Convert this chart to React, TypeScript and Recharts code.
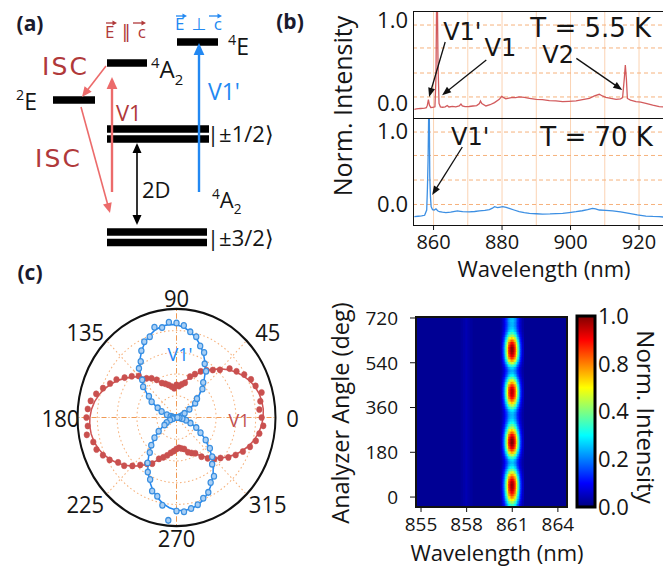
import React from 'react';
import {
  ComposedChart, LineChart, Line, XAxis, YAxis, ReferenceLine, ReferenceDot,
  RadarChart, Radar, PolarGrid, PolarAngleAxis, PolarRadiusAxis,
  ScatterChart, Scatter, BarChart, Bar,
} from 'recharts';

const FONT = '"Open Sans", "DejaVu Sans", sans-serif';
const NOTE_FONT = '"DejaVu Sans", sans-serif';
const INK = '#151515';
const RED_TXT = '#b0393a';
const RED_ARROW = '#ec6b6b';
const BLUE = '#2288f2';
const SPEC_RED = '#d25a5c';
const SPEC_BLUE = '#3c8fe3';
const GRID_V = '#fbd3b3';
const GRID_H = '#f6b27d';

// ---------- (a) level diagram (panel pixel units) ----------
const levelX0 = [177, 107, 53, 107, 107, 107, 107];
const levelX1 = [218, 147, 95, 209, 209, 207, 207];
const levelY = [42, 63, 100, 129, 139, 232, 242.5];

const arrowFrom = [[112, 192], [106, 66], [81, 107], [199, 192], [137, 143]];
const arrowTo = [[112, 77], [82, 97], [110, 213], [199, 43], [137, 225]];
const arrowColor = [RED_ARROW, RED_ARROW, RED_ARROW, BLUE, '#000'];
const arrowWidth = [2.4, 1.6, 1.6, 2.4, 1.6];
const arrowBoth = [false, false, false, false, true];
const arrowHead = [12, 10, 10, 12, 10];

const vecFrom = [[106, 23], [133, 23], [176, 16], [209, 16]];
const vecTo = [[117, 23], [146, 23], [187, 16], [222, 16]];
const vecColor = [RED_TXT, RED_TXT, BLUE, BLUE];

type Part = { t: string; k?: 'sup' | 'sub' };
const diagramLabels: { x: number; y: number; size: number; color: string; parts: Part[]; len?: number; font?: string }[] = [
  { x: 105, y: 38, size: 17, color: RED_TXT, parts: [{ t: 'E‖c' }], len: 41 },
  { x: 175, y: 30, size: 17, color: BLUE, parts: [{ t: 'E⊥c' }], len: 47 },
  { x: 42, y: 75, size: 25, color: RED_TXT, parts: [{ t: 'ISC' }], len: 45, font: NOTE_FONT },
  { x: 35, y: 167, size: 25, color: RED_TXT, parts: [{ t: 'ISC' }], len: 45, font: NOTE_FONT },
  { x: 116, y: 121, size: 22, color: RED_TXT, parts: [{ t: 'V1' }] },
  { x: 208, y: 100, size: 23, color: BLUE, parts: [{ t: "V1'" }] },
  { x: 142, y: 198, size: 22, color: INK, parts: [{ t: '2D' }] },
  { x: 16, y: 110, size: 23, color: INK, parts: [{ t: '2', k: 'sup' }, { t: 'E' }] },
  { x: 151, y: 78, size: 24, color: INK, parts: [{ t: '4', k: 'sup' }, { t: 'A' }, { t: '2', k: 'sub' }] },
  { x: 228, y: 55, size: 23, color: INK, parts: [{ t: '4', k: 'sup' }, { t: 'E' }] },
  { x: 212, y: 208, size: 22, color: INK, parts: [{ t: '4', k: 'sup' }, { t: 'A' }, { t: '2', k: 'sub' }] },
  { x: 207, y: 142, size: 22, color: INK, parts: [{ t: '|±1/2⟩' }] },
  { x: 207, y: 246, size: 22, color: INK, parts: [{ t: '|±3/2⟩' }] },
];

// ---------- (b) spectra ----------
const lowTWavelength = [
  854.4, 855.0, 855.6, 856.2, 856.8, 857.4, 857.9, 858.2, 858.5, 858.8, 859.2, 859.8,
  860.4, 860.7, 860.9, 861.1, 861.3, 861.6, 862.0, 862.6, 863.4, 864.0, 864.5, 865.5,
  866.5, 867.5, 868.0, 868.4, 869.2, 870.4, 871.5, 872.6, 873.4, 873.7, 874.1, 875.3,
  876.5, 877.8, 879.2, 879.9, 880.5, 881.1, 882.0, 883.1, 884.0, 885.0, 886.5, 888.0,
  890.0, 891.8, 893.8, 895.7, 897.7, 899.5, 901.6, 903.5, 905.5, 907.0, 908.4, 909.3,
  910.3, 911.8, 913.3, 914.6, 915.2, 915.7, 916.0, 916.3, 916.6, 917.5, 919.1, 920.5,
  922.0, 924.0, 925.9, 927.0,
];
const lowTIntensity = [
  -0.07, -0.065, -0.062, -0.06, -0.058, -0.056, -0.05, -0.02, 0.045, -0.02, -0.048, -0.046,
  -0.04, 0.3, 1.25, 1.3, 0.5, 0.0, -0.04, -0.045, -0.04, -0.025, -0.042, -0.035,
  -0.04, -0.03, -0.006, -0.03, -0.038, -0.036, -0.03, -0.025, 0.0, 0.03, 0.0, -0.03,
  -0.015, 0.01, 0.05, 0.085, 0.07, 0.055, 0.065, 0.074, 0.07, 0.08, 0.072, 0.062,
  0.05, 0.045, 0.035, 0.03, 0.022, 0.025, 0.03, 0.045, 0.062, 0.09, 0.11, 0.09,
  0.074, 0.06, 0.05, 0.056, 0.07, 0.3, 0.46, 0.3, 0.06, 0.04, 0.022, 0.015,
  0.002, -0.02, -0.038, -0.04,
];
const highTWavelength = [
  854.4, 855.5, 856.5, 857.4, 858.0, 858.2, 858.4, 858.6, 858.75, 858.9, 859.1, 859.3,
  859.7, 860.2, 860.7, 861.2, 861.7, 862.6, 863.6, 865.0, 866.2, 867.0, 867.8, 868.5,
  870.4, 872.0, 873.4, 875.0, 876.3, 877.2, 877.8, 878.7, 879.5, 880.2, 881.2, 882.1,
  883.5, 885.0, 886.5, 888.0, 890.0, 891.8, 894.0, 895.8, 897.7, 899.6, 901.6, 903.4,
  905.0, 906.4, 907.3, 908.4, 910.3, 912.3, 914.6, 917.1, 919.5, 922.0, 924.0, 925.9,
  927.0,
];
const highTIntensity = [
  -0.166, -0.16, -0.155, -0.147, -0.075, 0.2, 0.6, 1.3, 1.3, 0.38, 0.1, -0.03,
  -0.07, -0.075, -0.06, -0.085, -0.098, -0.105, -0.11, -0.105, -0.095, -0.088, -0.093, -0.098,
  -0.1, -0.095, -0.088, -0.08, -0.07, -0.05, -0.03, -0.043, -0.035, -0.03, -0.04, -0.052,
  -0.075, -0.098, -0.11, -0.12, -0.126, -0.13, -0.128, -0.124, -0.12, -0.11, -0.098, -0.085,
  -0.07, -0.052, -0.06, -0.075, -0.08, -0.088, -0.1, -0.12, -0.14, -0.157, -0.163, -0.166,
  -0.17,
];
const specDomain = [854, 927];
const specTicks = [860, 880, 900, 920];
const specGridWl = [860, 870, 880, 890, 900, 910, 920];
const lowTGridI = [0.078, 0.365, 0.665, 0.94];
const highTGridI = [0, 0.333, 0.667, 0.986];

const lowTNotes = [
  { wl: 868.4, i: 0.856, text: "V1'", size: 24 },
  { wl: 879.5, i: 0.665, text: 'V1', size: 24 },
  { wl: 896.4, i: 0.58, text: 'V2', size: 24 },
  { wl: 905.9, i: 0.9, text: 'T = 5.5 K', size: 26 },
];
const lowTPointers = [
  [[863.4, 0.736], [858.7, 0.078]],
  [[875.4, 0.521], [862.5, 0.1]],
  [[901.7, 0.54], [915.1, 0.162]],
];
const highTNotes = [
  { wl: 870.7, i: 0.918, text: "V1'", size: 24 },
  { wl: 907.6, i: 0.918, text: 'T = 70 K', size: 26 },
];
const highTPointers = [[[868.4, 0.782], [859.6, 0.129]]];

// ---------- (c) polar ----------
const polarAngles = [
  0, 5, 10, 15, 20, 25, 30, 35, 40, 45, 50, 55, 60, 65, 70, 75, 80, 85,
  90, 95, 100, 105, 110, 115, 120, 125, 130, 135, 140, 145, 150, 155, 160, 165, 170, 175,
  180, 185, 190, 195, 200, 205, 210, 215, 220, 225, 230, 235, 240, 245, 250, 255, 260, 265,
  270, 275, 280, 285, 290, 295, 300, 305, 310, 315, 320, 325, 330, 335, 340, 345, 350, 355,
];
const v1Points = [
  0.84, 0.86, 0.89, 0.85, 0.83, 0.79, 0.74, 0.70, 0.62, 0.57, 0.53, 0.49,
  0.44, 0.40, 0.33, 0.31, 0.29, 0.30, 0.27, 0.29, 0.31, 0.33, 0.35, 0.40,
  0.44, 0.47, 0.54, 0.59, 0.64, 0.70, 0.74, 0.79, 0.84, 0.88, 0.90, 0.91,
  0.90, 0.92, 0.87, 0.86, 0.82, 0.78, 0.72, 0.69, 0.63, 0.57, 0.52, 0.49,
  0.42, 0.39, 0.36, 0.33, 0.31, 0.29, 0.28, 0.29, 0.30, 0.34, 0.36, 0.38,
  0.44, 0.49, 0.54, 0.58, 0.64, 0.69, 0.74, 0.79, 0.83, 0.85, 0.88, 0.86,
];
const v1Fit = [
  0.88, 0.875, 0.862, 0.84, 0.81, 0.773, 0.73, 0.683, 0.632, 0.58, 0.528, 0.477,
  0.43, 0.387, 0.35, 0.32, 0.298, 0.285, 0.28, 0.285, 0.298, 0.32, 0.35, 0.387,
  0.43, 0.477, 0.528, 0.58, 0.632, 0.683, 0.73, 0.773, 0.81, 0.84, 0.862, 0.875,
  0.88, 0.875, 0.862, 0.84, 0.81, 0.773, 0.73, 0.683, 0.632, 0.58, 0.528, 0.477,
  0.43, 0.387, 0.35, 0.32, 0.298, 0.285, 0.28, 0.285, 0.298, 0.32, 0.35, 0.387,
  0.43, 0.477, 0.528, 0.58, 0.632, 0.683, 0.73, 0.773, 0.81, 0.84, 0.862, 0.875,
];
const v1pPoints = [
  0.02, 0.03, 0.05, 0.07, 0.09, 0.15, 0.23, 0.27, 0.37, 0.42, 0.52, 0.57,
  0.66, 0.70, 0.77, 0.80, 0.85, 0.87, 0.88, 0.84, 0.86, 0.79, 0.77, 0.71,
  0.63, 0.59, 0.49, 0.44, 0.34, 0.29, 0.21, 0.16, 0.10, 0.06, 0.04, 0.02,
  0.01, 0.03, 0.04, 0.07, 0.11, 0.14, 0.22, 0.29, 0.36, 0.42, 0.51, 0.58,
  0.63, 0.72, 0.75, 0.82, 0.95, 0.86, 0.87, 0.85, 0.83, 0.79, 0.76, 0.69,
  0.66, 0.56, 0.51, 0.44, 0.36, 0.28, 0.22, 0.15, 0.10, 0.06, 0.03, 0.01,
];
const v1pFit = [
  0, 0.007, 0.026, 0.058, 0.101, 0.154, 0.215, 0.283, 0.355, 0.43, 0.505, 0.577,
  0.645, 0.706, 0.759, 0.802, 0.834, 0.853, 0.86, 0.853, 0.834, 0.802, 0.759, 0.706,
  0.645, 0.577, 0.505, 0.43, 0.355, 0.283, 0.215, 0.154, 0.101, 0.058, 0.026, 0.007,
  0, 0.007, 0.026, 0.058, 0.101, 0.154, 0.215, 0.283, 0.355, 0.43, 0.505, 0.577,
  0.645, 0.706, 0.759, 0.802, 0.834, 0.853, 0.86, 0.853, 0.834, 0.802, 0.759, 0.706,
  0.645, 0.577, 0.505, 0.43, 0.355, 0.283, 0.215, 0.154, 0.101, 0.058, 0.026, 0.007,
];
const polarTickAngles = [0, 45, 90, 135, 180, 225, 270, 315];

// ---------- (c) heat map ----------
const heatWl = [854.67, 864.6];
const heatAngle = [-40, 724];
const heatWlTicks = [855, 858, 861, 864];
const heatAngleTicks = [0, 180, 360, 540, 720];
const heatBackground = 0.02;
const v1Center = 861.0;
const v1Offsets = [-0.7, -0.6, -0.5, -0.4, -0.3, -0.2, -0.1, 0, 0.1, 0.2, 0.3, 0.4, 0.5, 0.6, 0.7];
const v1Profile = [0.06, 0.14, 0.28, 0.45, 0.65, 0.85, 0.95, 1.0, 0.95, 0.85, 0.65, 0.45, 0.28, 0.14, 0.06];
const v1pCenter = 858.0;
const v1pOffsets = [-0.3, -0.15, 0, 0.15, 0.3];
const v1pLevel = [0.01, 0.02, 0.03, 0.02, 0.01];
const analyzerAngles = [
  -40, -30, -20, -10, 0, 10, 20, 30, 40, 50, 60, 70,
  80, 90, 100, 110, 120, 130, 140, 150, 160, 170, 180, 190,
  200, 210, 220, 230, 240, 250, 260, 270, 280, 290, 300, 310,
  320, 330, 340, 350, 360, 370, 380, 390, 400, 410, 420, 430,
  440, 450, 460, 470, 480, 490, 500, 510, 520, 530, 540, 550,
  560, 570, 580, 590, 600, 610, 620, 630, 640, 650, 660, 670,
  680, 690, 700, 710, 720,
];
const v1AngleGain = [
  0.35, 0.42, 0.52, 0.62, 0.72, 0.80, 0.87, 0.92, 0.95, 0.96, 0.94, 0.88,
  0.80, 0.70, 0.58, 0.47, 0.38, 0.32, 0.30, 0.33, 0.42, 0.55, 0.68, 0.80,
  0.90, 0.96, 0.99, 0.98, 0.94, 0.86, 0.76, 0.65, 0.54, 0.45, 0.38, 0.33,
  0.30, 0.29, 0.30, 0.35, 0.44, 0.55, 0.66, 0.76, 0.85, 0.91, 0.93, 0.93,
  0.89, 0.81, 0.70, 0.58, 0.46, 0.36, 0.30, 0.28, 0.32, 0.42, 0.56, 0.70,
  0.82, 0.90, 0.95, 0.97, 0.97, 0.93, 0.86, 0.76, 0.64, 0.52, 0.42, 0.35,
  0.31, 0.29, 0.29, 0.30, 0.30,
];
const peakLabelWl = [858, 861];
const peakLabelText = ["V1'", 'V1'];
const peakLabelColor = [BLUE, '#c85a5a'];

const colorbarValue = [1];
const colorbarTicks = [0, 0.25, 0.5, 0.75, 1];
const colorbarLabels = ['0.0', '0.2', '0.4', '0.8', '1.0'];
const jetStops = [0, 0.125, 0.375, 0.625, 0.875, 1];
const jetColors = ['#00007f', '#0000ff', '#00ffff', '#ffff00', '#ff0000', '#7f0000'];

// heat map plot box in pixels
const HM_W = 151;
const HM_H = 190;

const clamp = (v: number) => Math.max(0, Math.min(1, v));
function jet(v: number) {
  const r = clamp(1.5 - Math.abs(4 * v - 3));
  const g = clamp(1.5 - Math.abs(4 * v - 2));
  const b = clamp(1.5 - Math.abs(4 * v - 1));
  return `rgb(${Math.round(r * 255)},${Math.round(g * 255)},${Math.round(b * 255)})`;
}

const heatCells = [
  {
    x: (heatWl[0] + heatWl[1]) / 2, y: (heatAngle[0] + heatAngle[1]) / 2,
    w: heatWl[1] - heatWl[0], h: heatAngle[1] - heatAngle[0], v: heatBackground,
  },
  ...v1pOffsets.map((o, j) => ({
    x: v1pCenter + o, y: (heatAngle[0] + heatAngle[1]) / 2,
    w: 0.15, h: heatAngle[1] - heatAngle[0], v: heatBackground + v1pLevel[j],
  })),
  ...analyzerAngles.flatMap((a, i) =>
    v1Offsets.map((o, j) => ({
      x: v1Center + o, y: a, w: 0.1, h: 10, v: heatBackground + v1Profile[j] * v1AngleGain[i],
    })),
  ),
];

const CellShape = (p: any) => {
  const d = p.payload;
  const w = (d.w * HM_W) / (heatWl[1] - heatWl[0]) + 0.6;
  const h = (d.h * HM_H) / (heatAngle[1] - heatAngle[0]) + 0.6;
  return <rect x={p.cx - w / 2} y={p.cy - h / 2} width={w} height={h} fill={jet(d.v)} />;
};

// ---------- helpers ----------
function arrowShape(color: string, width: number, both: boolean, head: number, half: number) {
  return (p: any) => {
    const { x1, y1, x2, y2 } = p;
    const len = Math.hypot(x2 - x1, y2 - y1) || 1;
    const ux = (x2 - x1) / len;
    const uy = (y2 - y1) / len;
    const tri = (tx: number, ty: number, sx: number, sy: number) => {
      const bx = tx - sx * head;
      const by = ty - sy * head;
      return `${tx},${ty} ${bx - sy * half},${by + sx * half} ${bx + sy * half},${by - sx * half}`;
    };
    const sx = both ? x1 + ux * head * 0.8 : x1;
    const sy = both ? y1 + uy * head * 0.8 : y1;
    return (
      <g>
        <line x1={sx} y1={sy} x2={x2 - ux * head * 0.8} y2={y2 - uy * head * 0.8} stroke={color} strokeWidth={width} />
        <polygon points={tri(x2, y2, ux, uy)} fill={color} />
        {both && <polygon points={tri(x1, y1, -ux, -uy)} fill={color} />}
      </g>
    );
  };
}

function Rich({ x, y, size, color, parts, len, font = FONT }: any) {
  const shift = (k?: string) => (k === 'sup' ? -0.42 * size : k === 'sub' ? 0.28 * size : 0);
  let prev = 0;
  return (
    <text x={x} y={y} fontSize={size} fill={color} fontFamily={font}
      textLength={len} lengthAdjust={len ? 'spacing' : undefined}>
      {parts.map((pt: Part, i: number) => {
        const s = shift(pt.k);
        const dy = s - prev;
        prev = s;
        return <tspan key={i} dy={dy} fontSize={pt.k ? size * 0.62 : size}>{pt.t}</tspan>;
      })}
    </text>
  );
}

function Tag({ x, y, size, children, rot = 0, color = INK, bold = false }: any) {
  return (
    <div style={{
      position: 'absolute', left: x, top: y, transform: `translate(-50%,-50%) rotate(${rot}deg)`,
      fontSize: size, lineHeight: 1, whiteSpace: 'nowrap', color, fontWeight: bold ? 700 : 400,
    }}>{children}</div>
  );
}

function Frame({ x, y, w, h, bw }: any) {
  return <div style={{ position: 'absolute', left: x, top: y, width: w, height: h, border: `${bw}px solid #111`, boxSizing: 'border-box', pointerEvents: 'none' }} />;
}

const POLAR_CX = 160.5;
const POLAR_CY = 150.5;
const AngleTick = (p: any) => {
  const a = Number(p.payload.value);
  if (!polarTickAngles.includes(a)) return <g />;
  const card = a % 90 === 0;
  const rx = card ? 116 : 129;
  const ry = card ? 109 : 111;
  const rad = (a * Math.PI) / 180;
  return (
    <text x={POLAR_CX + Math.cos(rad) * rx} y={POLAR_CY - Math.sin(rad) * ry} textAnchor="middle"
      dominantBaseline="central" fontSize={22} fill={INK} fontFamily={FONT}>{a}</text>
  );
};

const PeakTick = (p: any) => {
  const i = peakLabelWl.indexOf(Number(p.payload.value));
  return (
    <text x={p.x} y={p.y} textAnchor="middle" fontSize={18} fill={peakLabelColor[i]} fontFamily={FONT}>
      {peakLabelText[i]}
    </text>
  );
};

const noteShape = (text: string, size: number) => (p: any) => (
  <text x={p.cx} y={p.cy} textAnchor="middle" dominantBaseline="central" fontSize={size} fill={INK}
    fontFamily={NOTE_FONT}>{text}</text>
);

const dotShape = (fill: string, stroke: string, r: number, sw: number) => (p: any) =>
  <circle key={p.key ?? `${p.cx}-${p.cy}`} cx={p.cx} cy={p.cy} r={r} fill={fill} stroke={stroke} strokeWidth={sw} />;

const tickStyle = { fontSize: 20, fill: INK, fontFamily: FONT };

export default function App() {
  const lowTData = lowTWavelength.map((w, i) => ({ wl: w, i: lowTIntensity[i] }));
  const highTData = highTWavelength.map((w, i) => ({ wl: w, i: highTIntensity[i] }));
  const polarData = polarAngles.map((a, i) => ({
    angle: a, v1: v1Points[i], v1fit: v1Fit[i], v1p: v1pPoints[i], v1pfit: v1pFit[i],
  }));
  const colorbarData = colorbarValue.map((v) => ({ k: 'cb', v }));

  return (
    <div style={{ position: 'absolute', left: 0, top: 0, width: 663, height: 571, background: '#fff', fontFamily: FONT, color: INK, overflow: 'hidden' }}>
      {/* (a) */}
      <div style={{ position: 'absolute', left: 0, top: 0 }}>
        <ComposedChart width={330} height={262} margin={{ top: 0, right: 0, bottom: 12, left: 0 }}>
          <XAxis type="number" dataKey="x" domain={[0, 330]} allowDataOverflow hide />
          <YAxis type="number" domain={[0, 250]} reversed allowDataOverflow hide />
          {levelY.map((y, i) => (
            <ReferenceLine key={'lv' + i} segment={[{ x: levelX0[i], y }, { x: levelX1[i], y }]} stroke="#000" strokeWidth={7.5} />
          ))}
          {arrowFrom.map((f, i) => (
            <ReferenceLine key={'ar' + i} segment={[{ x: f[0], y: f[1] }, { x: arrowTo[i][0], y: arrowTo[i][1] }]}
              shape={arrowShape(arrowColor[i], arrowWidth[i], arrowBoth[i], arrowHead[i], arrowHead[i] * 0.45)} />
          ))}
          {vecFrom.map((f, i) => (
            <ReferenceLine key={'vec' + i} segment={[{ x: f[0], y: f[1] }, { x: vecTo[i][0], y: vecTo[i][1] }]}
              shape={arrowShape(vecColor[i], 1.3, false, 4.5, 2.5)} />
          ))}
          {diagramLabels.map((l, i) => (
            <ReferenceDot key={'lb' + i} x={l.x} y={l.y} r={0}
              shape={(p: any) => <Rich x={p.cx} y={p.cy} size={l.size} color={l.color} parts={l.parts} len={l.len} font={l.font} />} />
          ))}
        </ComposedChart>
      </div>

      {/* (b) top: 5.5 K */}
      <div style={{ position: 'absolute', left: 330, top: 0 }}>
        <LineChart width={333} height={130} data={lowTData} margin={{ top: 12, right: 0, bottom: 12, left: 0 }}>
          <XAxis type="number" dataKey="wl" domain={specDomain} allowDataOverflow hide />
          <YAxis type="number" domain={[-0.174, 1.096]} allowDataOverflow ticks={[0, 1]} width={83}
            tickFormatter={(v: number) => v.toFixed(1)} tick={{ ...tickStyle, fontSize: 22 }}
            tickLine={false} axisLine={false} tickSize={0} tickMargin={5} />
          {specGridWl.map((w) => <ReferenceLine key={'gv' + w} x={w} stroke={GRID_V} strokeWidth={1} />)}
          {lowTGridI.map((v) => <ReferenceLine key={'gh' + v} y={v} stroke={GRID_H} strokeDasharray="4 3" />)}
          <Line type="linear" dataKey="i" stroke={SPEC_RED} strokeWidth={1.3} dot={false} isAnimationActive={false} />
          {lowTPointers.map((s, i) => (
            <ReferenceLine key={'pt' + i} segment={[{ x: s[0][0], y: s[0][1] }, { x: s[1][0], y: s[1][1] }]}
              shape={arrowShape('#111', 1.3, false, 9, 3.5)} />
          ))}
          {lowTNotes.map((n, i) => (
            <ReferenceDot key={'nt' + i} x={n.wl} y={n.i} r={0} shape={noteShape(n.text, n.size)} />
          ))}
        </LineChart>
      </div>

      {/* (b) bottom: 70 K */}
      <div style={{ position: 'absolute', left: 330, top: 108 }}>
        <LineChart width={333} height={170} data={highTData} margin={{ top: 10, right: 0, bottom: 0, left: 0 }}>
          <XAxis type="number" dataKey="wl" domain={specDomain} allowDataOverflow ticks={specTicks} height={53}
            tick={tickStyle} tickLine={{ stroke: '#111' }} axisLine={false} tickSize={5} tickMargin={5} />
          <YAxis type="number" domain={[-0.279, 1.177]} allowDataOverflow ticks={[0, 1]} width={83}
            tickFormatter={(v: number) => v.toFixed(1)} tick={{ ...tickStyle, fontSize: 22 }}
            tickLine={false} axisLine={false} tickSize={0} tickMargin={5} />
          {specGridWl.map((w) => <ReferenceLine key={'gv' + w} x={w} stroke={GRID_V} strokeWidth={1} />)}
          {highTGridI.map((v) => <ReferenceLine key={'gh' + v} y={v} stroke={GRID_H} strokeDasharray="4 3" />)}
          <Line type="linear" dataKey="i" stroke={SPEC_BLUE} strokeWidth={1.3} dot={false} isAnimationActive={false} />
          {highTPointers.map((s, i) => (
            <ReferenceLine key={'pt' + i} segment={[{ x: s[0][0], y: s[0][1] }, { x: s[1][0], y: s[1][1] }]}
              shape={arrowShape('#111', 1.3, false, 9, 3.5)} />
          ))}
          {highTNotes.map((n, i) => (
            <ReferenceDot key={'nt' + i} x={n.wl} y={n.i} r={0} shape={noteShape(n.text, n.size)} />
          ))}
        </LineChart>
      </div>
      <Frame x={412.5} y={11} w={260} h={108} bw={1.5} />
      <Frame x={412.5} y={117.5} w={260} h={108.5} bw={1.5} />

      {/* (c) polar */}
      <div style={{ position: 'absolute', left: 16, top: 267, transform: 'scaleY(1.098)', transformOrigin: `${POLAR_CX}px ${POLAR_CY}px` }}>
        <RadarChart width={320} height={300} cx={POLAR_CX} cy={POLAR_CY} outerRadius={99} data={polarData}
          startAngle={0} endAngle={360} margin={{ top: 0, right: 0, bottom: 0, left: 0 }}>
          <PolarGrid gridType="circle" polarAngles={[45, 135, 225, 315]} polarRadius={[19.8, 39.6, 59.4, 79.2]}
            stroke={GRID_H} strokeDasharray="1.5 2.5" />
          <PolarGrid gridType="circle" polarAngles={[0, 90, 180, 270]} polarRadius={[0]}
            stroke="#ef9a55" strokeDasharray="5 2 1 2" />
          <PolarAngleAxis dataKey="angle" tick={AngleTick} tickLine={false} axisLineType="circle"
            axisLine={{ stroke: '#111', strokeWidth: 2 }} />
          <PolarRadiusAxis domain={[0, 1]} tick={false} axisLine={false} />
          <Radar dataKey="v1fit" stroke="#cf5354" strokeWidth={1.5} fill="none" fillOpacity={0} dot={false} isAnimationActive={false} />
          <Radar dataKey="v1" stroke="none" fill="none" fillOpacity={0}
            dot={dotShape('#c9504f', '#c9504f', 2.8, 0.5)} isAnimationActive={false} />
          <Radar dataKey="v1pfit" stroke={BLUE} strokeWidth={1.5} fill="none" fillOpacity={0} dot={false} isAnimationActive={false} />
          <Radar dataKey="v1p" stroke="none" fill="none" fillOpacity={0}
            dot={dotShape('#a9cff5', '#3a8fe0', 2.6, 1.2)} isAnimationActive={false} />
        </RadarChart>
      </div>
      <Tag x={180} y={354} size={18} color={BLUE}>V1'</Tag>
      <Tag x={239} y={420} size={18} color="#c05050">V1</Tag>

      {/* (c) heat map */}
      <div style={{ position: 'absolute', left: 330, top: 280 }}>
        <ScatterChart width={250} height={262} margin={{ top: 7, right: 13, bottom: 2, left: 26 }}>
          <XAxis type="number" dataKey="x" domain={heatWl} allowDataOverflow ticks={heatWlTicks} height={33}
            tick={{ ...tickStyle, fontSize: 19 }} tickLine={{ stroke: '#111' }} axisLine={false} tickSize={5} tickMargin={6} />
          <XAxis xAxisId="top" orientation="top" type="number" domain={heatWl} allowDataOverflow ticks={peakLabelWl}
            height={30} tick={PeakTick} tickLine={false} axisLine={false} tickSize={0} tickMargin={8} />
          <YAxis type="number" dataKey="y" domain={heatAngle} allowDataOverflow ticks={heatAngleTicks} width={60}
            tick={{ ...tickStyle, fontSize: 19 }} tickLine={{ stroke: '#111' }} axisLine={false} tickSize={6} tickMargin={12} />
          <Scatter data={heatCells} shape={CellShape} isAnimationActive={false} />
        </ScatterChart>
      </div>
      <Frame x={415} y={316} w={153} h={192} bw={2} />

      {/* colour bar */}
      <div style={{ position: 'absolute', left: 570, top: 300 }}>
        <BarChart width={93} height={220} data={colorbarData} margin={{ top: 16, right: 0, bottom: 13, left: 7 }} barCategoryGap={0}>
          <defs>
            <linearGradient id="jetBar" x1="0" y1="1" x2="0" y2="0">
              {jetStops.map((s, i) => <stop key={s} offset={s} stopColor={jetColors[i]} />)}
            </linearGradient>
          </defs>
          <XAxis dataKey="k" hide />
          <YAxis orientation="right" type="number" domain={[0, 1]} ticks={colorbarTicks} width={68}
            tickFormatter={(v: number) => colorbarLabels[Math.round(v * 4)]} tick={{ ...tickStyle, fontSize: 22 }}
            tickLine={false} axisLine={false} tickSize={0} tickMargin={3} />
          <Bar dataKey="v" fill="url(#jetBar)" stroke="#000" strokeWidth={3} isAnimationActive={false} />
        </BarChart>
      </div>

      {/* titles */}
      <Tag x={30} y={23} size={21} bold color="#1a1a2e">(a)</Tag>
      <Tag x={290} y={21} size={21} bold color="#1a1a2e">(b)</Tag>
      <Tag x={30} y={272} size={21} bold color="#1a1a2e">(c)</Tag>
      <Tag x={342} y={106} size={25} rot={-90}>Norm. Intensity</Tag>
      <Tag x={544} y={268} size={22}>Wavelength (nm)</Tag>
      <Tag x={341} y={413} size={23.5} rot={-90}>Analyzer Angle (deg)</Tag>
      <Tag x={497} y={552} size={22}>Wavelength (nm)</Tag>
      <Tag x={646} y={417} size={24} rot={90}>Norm. Intensity</Tag>
    </div>
  );
}
